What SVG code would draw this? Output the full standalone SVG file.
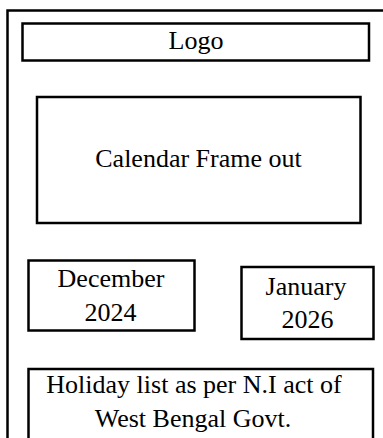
<svg xmlns="http://www.w3.org/2000/svg" width="383" height="438" viewBox="0 0 383 438">
<style>
.box{fill:#fff;stroke:#000;stroke-width:2.5}
.t{font-family:"Liberation Serif","Times New Roman",serif;font-size:26px;fill:#000;text-anchor:middle}
</style>
<rect width="383" height="438" fill="#fff"/>
<g id="frame"><rect class="box" x="7.5" y="10.5" width="400" height="450"/></g>
<g id="logo"><rect class="box" x="22.5" y="23.5" width="346.5" height="37"/><text class="t" x="196" y="49">Logo</text></g>
<g id="calendar"><rect class="box" x="37" y="97" width="323.5" height="126"/><text class="t" x="198.5" y="167">Calendar Frame out</text></g>
<g id="december"><rect class="box" x="28.5" y="260.5" width="166" height="70"/><text class="t" x="111" y="287">December</text><text class="t" x="110.5" y="321">2024</text></g>
<g id="january"><rect class="box" x="241.5" y="267" width="132" height="72"/><text class="t" x="306" y="295">January</text><text class="t" x="307.5" y="328">2026</text></g>
<g id="holiday"><rect class="box" x="28.5" y="369" width="344.5" height="80"/><text class="t" x="194" y="393">Holiday list as per N.I act of</text><text class="t" x="193" y="427">West Bengal Govt.</text></g>
<g id="connectors"/>
</svg>
